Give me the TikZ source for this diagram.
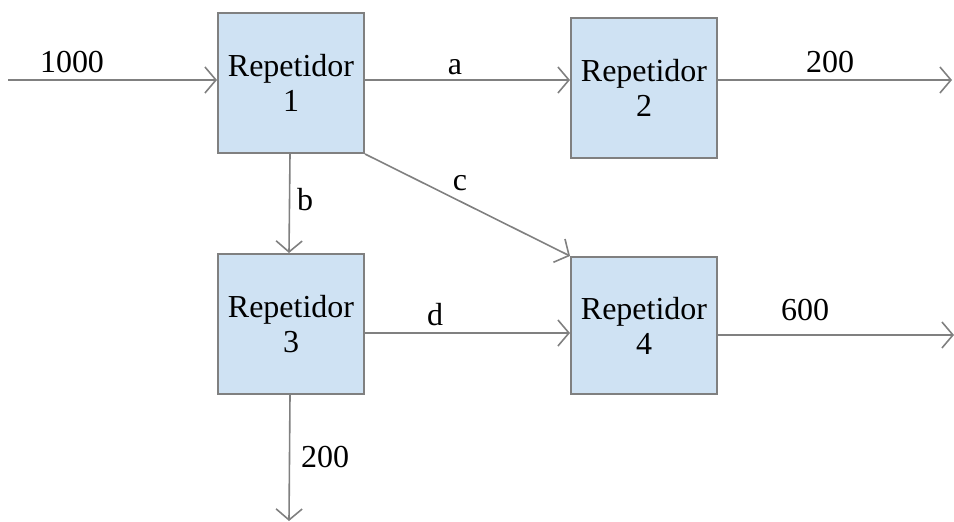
\documentclass[tikz,border=0pt]{standalone}
\usepackage{fontspec}
\setmainfont{Liberation Serif}
\usetikzlibrary{arrows.meta}
\definecolor{boxfill}{RGB}{207,226,243}
\definecolor{linegray}{RGB}{128,128,128}
\begin{document}
\begin{tikzpicture}[x=1pt,y=-1pt,
  rep/.style={draw=linegray,line width=2pt,fill=boxfill,minimum width=146pt,minimum height=140pt,inner sep=0pt,align=center,font=\fontsize{32}{35}\selectfont,anchor=north west},
  conn/.style={draw=linegray,line width=1.6pt,-{Straight Barb[length=11pt,width=26pt,line width=1.6pt]}},
  lbl/.style={font=\fontsize{32}{35}\selectfont,inner sep=0pt}]
\useasboundingbox (0,0) rectangle (954,522);
\node[rep] (r1) at (217,12) {Repetidor\\1};
\node[rep] (r2) at (570,17) {Repetidor\\2};
\node[rep,minimum height=140pt] (r3) at (217,253) {Repetidor\\3};
\node[rep,minimum height=137pt] (r4) at (570,256) {Repetidor\\4};
\coordinate (in) at (8,80);
\coordinate (o2) at (952,80);
\coordinate (o4) at (954,335);
\coordinate (o3) at (289,521);
\draw[conn] (in) -- (in -| r1.west);
\draw[conn] (r1.east |- 0,80) -- (r2.west |- 0,80);
\draw[conn] (r2.east |- 0,80) -- (o2);
\draw[conn] (r1.south) ++(-1,0) -- (289,253);
\draw[conn] (r1.south east) -- (r4.north west);
\draw[conn] (r3.east |- 0,333) -- (r4.west |- 0,333);
\draw[conn] (r4.east |- 0,335) -- (o4);
\draw[conn] (r3.south) ++(-1,0) -- (o3);
\node[lbl] (l1000) at (72,62) {1000};
\node[lbl] (la) at (455,67) {a};
\node[lbl] (l200a) at (830,62) {200};
\node[lbl] (lb) at (305,200) {b};
\node[lbl] (lc) at (460,183) {c};
\node[lbl] (ld) at (435,315) {d};
\node[lbl] (l600) at (805,310) {600};
\node[lbl] (l200b) at (325,457) {200};
\end{tikzpicture}
\end{document}
